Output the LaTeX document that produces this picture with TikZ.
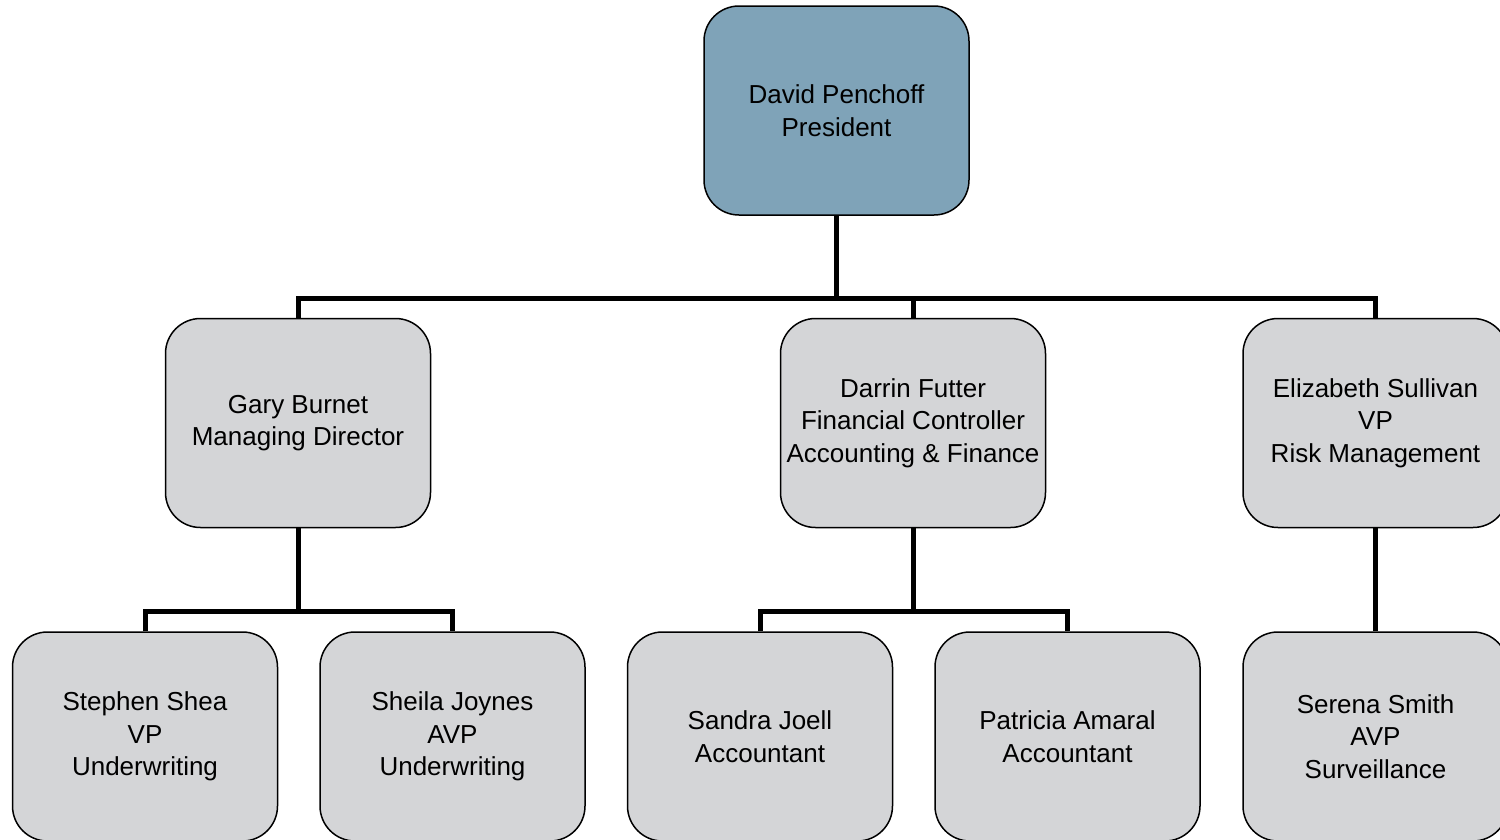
\documentclass[tikz,border=0pt]{standalone}
\usepackage{fontspec}
\setmainfont{Liberation Sans}
\definecolor{topfill}{RGB}{127,163,184}
\definecolor{boxfill}{RGB}{212,213,215}
\begin{document}
\begin{tikzpicture}[x=1pt,y=-1pt,
  orgbox/.style={draw=black, line width=1.5pt, fill=boxfill, rounded corners=35pt,
    minimum width=265pt, minimum height=209pt, inner sep=0pt, align=center,
    font=\fontsize{26}{32.5}\selectfont},
  topbox/.style={orgbox, fill=topfill},
  conn/.style={draw=black, line width=5pt, line join=miter}]
\clip (0,0) rectangle (1500,839);
\fill[white] (0,0) rectangle (1500,839);
\node[topbox] (pres) at (836.5,110.5) {David Penchoff\\President};
\node[orgbox] (gary) at (298,423) {Gary Burnet\\Managing Director};
\node[orgbox] (darrin) at (913,423) {Darrin Futter\\Financial Controller\\Accounting \& Finance};
\node[orgbox] (eliz) at (1375.5,423) {Elizabeth Sullivan\\VP\\Risk Management};
\node[orgbox] (stephen) at (145,736.5) {Stephen Shea\\VP\\Underwriting};
\node[orgbox] (sheila) at (452.5,736.5) {Sheila Joynes\\AVP\\Underwriting};
\node[orgbox] (sandra) at (760,736.5) {Sandra Joell\\Accountant};
\node[orgbox] (patricia) at (1067.5,736.5) {Patricia Amaral\\Accountant};
\node[orgbox] (serena) at (1375.5,736.5) {Serena Smith\\AVP\\Surveillance};
\coordinate (busA) at (836.5,298.5);
\coordinate (busB) at (298,611);
\coordinate (busC) at (913,611);
\draw[conn] (pres.south) -- (busA);
\draw[conn] (gary.north) |- (busA) -| (eliz.north);
\draw[conn] (darrin.north) -- (darrin.north |- busA);
\draw[conn] (gary.south) -- (busB);
\draw[conn] (stephen.north) |- (busB) -| (sheila.north);
\draw[conn] (darrin.south) -- (busC);
\draw[conn] (sandra.north) |- (busC) -| (patricia.north);
\draw[conn] (eliz.south) -- (serena.north);
\end{tikzpicture}
\end{document}
